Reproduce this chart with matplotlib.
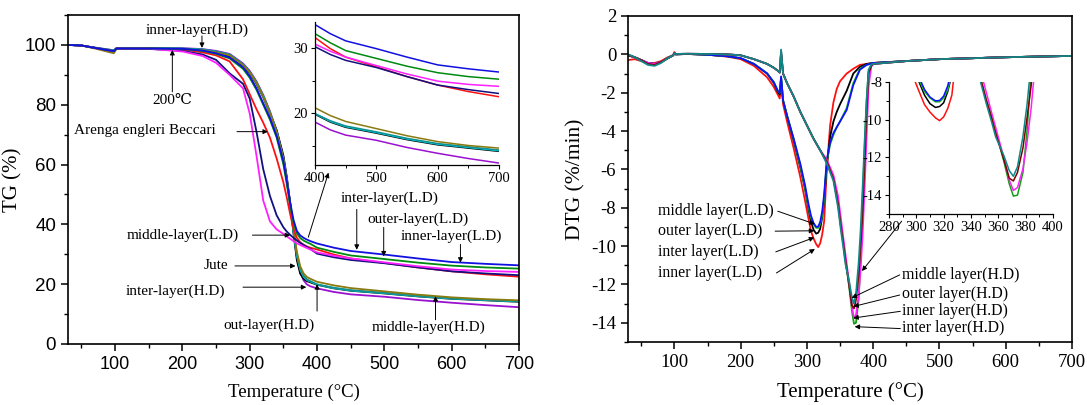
import matplotlib
matplotlib.use('Agg')
import matplotlib.pyplot as plt
from matplotlib.ticker import MultipleLocator

SERIF = ['Liberation Serif', 'DejaVu Serif']
SANS = ['Liberation Sans', 'DejaVu Sans']
plt.rcParams['font.family'] = SERIF
plt.rcParams['mathtext.fontset'] = 'stix'

# ---------------- TG data (left panel) ----------------
T_TG = [30, 50, 70, 98, 102, 150, 200, 230, 250, 270, 290, 300, 310, 320, 330, 340, 350,
        355, 360, 365, 370, 375, 380, 385, 390, 400, 425, 450, 500, 550, 600, 650, 700]

TG_ld_magenta = [100, 99.8, 99.0, 97.9, 98.8, 98.7, 97.8, 96.3, 94.0, 90.0, 85.5, 77.0, 63.0, 48.0, 41.0, 38.3, 36.8,
                 36.0, 35.2, 34.4, 33.7, 33.1, 32.6, 32.1, 31.6, 30.6, 29.5, 28.6, 27.3, 26.0, 24.9, 24.4, 24.1]
TG_ld_navy = [100, 99.8, 99.0, 97.9, 98.8, 98.7, 98.0, 96.8, 95.0, 90.5, 87.0, 82.0, 71.0, 58.5, 49.5, 43.0, 39.0,
              37.6, 36.5, 35.5, 34.6, 33.8, 33.1, 32.4, 31.8, 30.2, 29.0, 28.1, 27.0, 25.6, 24.3, 23.6, 23.0]
TG_ld_red = [100, 99.8, 99.0, 97.9, 98.8, 98.8, 98.5, 97.5, 96.5, 94.5, 88.5, 83.5, 78.5, 74.0, 69.0, 62.0, 54.0,
             49.0, 43.5, 38.5, 35.5, 34.0, 33.2, 32.6, 32.2, 31.6, 29.9, 28.6, 27.1, 25.6, 24.3, 23.3, 22.5]
TG_ld_green = [100, 99.8, 99.0, 97.9, 98.8, 98.8, 98.7, 98.0, 97.0, 95.5, 92.0, 89.0, 85.0, 80.0, 75.0, 69.0, 60.0,
               53.5, 46.5, 40.5, 37.0, 35.4, 34.6, 34.0, 33.5, 32.2, 30.8, 29.6, 28.4, 27.2, 26.2, 25.6, 25.2]
TG_ld_blue = [100, 99.8, 99.0, 97.9, 98.8, 98.8, 98.7, 98.1, 97.2, 95.8, 92.5, 89.5, 85.5, 80.5, 75.5, 69.5, 61.0,
              54.5, 47.5, 41.5, 37.8, 36.3, 35.5, 34.9, 34.4, 33.6, 32.2, 31.1, 29.9, 28.6, 27.4, 26.8, 26.3]

TG_hd_olive = [100, 99.8, 98.8, 97.2, 98.6, 98.6, 98.5, 98.2, 97.5, 96.5, 93.2, 90.8, 87.2, 82.7, 77.2, 70.8, 61.8,
               55.0, 47.2, 38.6, 30.8, 26.0, 23.6, 22.4, 21.8, 20.8, 19.6, 18.7, 17.6, 16.5, 15.6, 15.0, 14.6]
TG_hd_cyan = [100, 99.8, 99.0, 98.0, 98.8, 98.8, 98.7, 98.4, 97.7, 96.7, 93.4, 90.8, 87.3, 82.8, 77.3, 70.8, 61.5,
              54.5, 46.5, 37.5, 29.5, 24.8, 22.5, 21.4, 20.9, 19.9, 18.7, 17.9, 17.0, 16.0, 15.2, 14.7, 14.2]
TG_hd_black = [100, 99.8, 99.0, 98.0, 98.8, 98.8, 98.6, 98.2, 97.4, 96.2, 93.0, 90.5, 87.0, 82.5, 77.0, 71.5, 63.0,
               56.0, 47.0, 37.0, 28.0, 23.5, 21.8, 21.0, 20.6, 19.8, 18.6, 17.8, 16.9, 15.9, 15.1, 14.6, 14.1]
TG_hd_teal = [100, 99.8, 99.1, 98.2, 98.9, 98.9, 98.8, 98.5, 97.8, 96.8, 93.5, 91.0, 87.5, 83.0, 77.5, 71.0, 62.0,
              55.0, 47.0, 38.0, 30.0, 25.2, 22.8, 21.6, 21.0, 19.9, 18.8, 18.0, 17.1, 16.1, 15.3, 14.8, 14.3]
TG_hd_purple = [100, 99.8, 99.1, 98.2, 98.9, 98.9, 98.9, 98.6, 98.0, 97.0, 93.8, 91.3, 87.8, 83.3, 77.8, 71.3, 62.3,
                55.3, 47.3, 37.5, 29.0, 24.0, 21.3, 19.9, 19.3, 18.6, 17.4, 16.6, 15.8, 14.7, 13.8, 13.0, 12.3]

# ---------------- DTG data (right panel) ----------------
T_LD = [30, 40, 50, 60, 70, 80, 90, 98, 100, 102, 120, 150, 180, 200, 220, 240, 250, 256, 259, 261,
        264, 270, 280, 290, 297, 302, 306, 310, 314, 317, 320, 323, 326, 330, 335, 340, 345, 350, 360, 370,
        380, 390, 400, 450, 500, 600, 700]
DTG_ld_red = [-0.30, -0.25, -0.35, -0.45, -0.45, -0.35, -0.15, -0.05, 0.12, 0.0,
              0.02, -0.02, -0.12, -0.25, -0.6, -1.2, -1.7, -2.1, -2.3, -1.4,
              -2.6, -3.5, -4.9, -6.4, -7.6, -8.5, -9.2, -9.6, -9.9, -10.05,
              -9.85, -9.4, -8.7, -6.0, -3.7, -2.5, -1.8, -1.4, -1.0, -0.75,
              -0.55, -0.5, -0.45, -0.35, -0.25, -0.15, -0.08]
DTG_ld_black = [-0.05, -0.15, -0.3, -0.45, -0.5, -0.4, -0.2, -0.05, 0.05, 0.0,
                0.02, -0.02, -0.1, -0.2, -0.5, -1.0, -1.5, -1.95, -2.1, -1.2,
                -2.4, -3.2, -4.5, -5.9, -7.0, -8.0, -8.7, -9.15, -9.35, -9.3,
                -9.1, -8.5, -7.6, -5.8, -4.3, -3.5, -3.0, -2.6, -1.9, -1.0,
                -0.65, -0.5, -0.45, -0.35, -0.25, -0.15, -0.08]
DTG_ld_green = [0.0, -0.15, -0.3, -0.45, -0.5, -0.4, -0.2, -0.05, 0.05, 0.0,
                0.02, -0.02, -0.1, -0.2, -0.5, -1.0, -1.45, -1.9, -2.0, -1.2,
                -2.4, -3.2, -4.4, -5.8, -6.9, -7.9, -8.5, -8.85, -9.05, -9.05,
                -8.85, -8.4, -7.5, -5.6, -4.7, -4.2, -3.8, -3.5, -2.8, -1.5,
                -0.75, -0.55, -0.45, -0.35, -0.25, -0.15, -0.08]
DTG_ld_blue = [-0.02, -0.15, -0.3, -0.45, -0.5, -0.4, -0.2, -0.05, 0.05, 0.0,
               0.02, -0.02, -0.1, -0.2, -0.5, -1.0, -1.45, -1.9, -2.0, -1.15,
               -2.4, -3.2, -4.4, -5.7, -6.8, -7.75, -8.4, -8.8, -9.0, -8.98,
               -8.75, -8.2, -7.3, -5.5, -4.6, -4.1, -3.8, -3.5, -2.9, -1.6,
               -0.8, -0.55, -0.45, -0.35, -0.25, -0.15, -0.08]

T_HD = [30, 40, 50, 60, 70, 80, 90, 98, 100, 102, 120, 150, 180, 200, 220, 240, 250, 256, 259, 261,
        264, 270, 280, 290, 300, 310, 320, 330, 340, 347, 351, 355, 358, 361, 364, 368, 371, 374, 378, 381,
        384, 387, 390, 393, 397, 400, 450, 500, 600, 700]
DTG_hd_teal = [0.0, -0.15, -0.35, -0.55, -0.6, -0.45, -0.2, -0.05, 0.05, 0.02,
               0.03, 0.02, 0.0, -0.05, -0.25, -0.5, -0.7, -0.85, -0.95, 0.25,
               -1.0, -1.5, -2.2, -3.0, -3.7, -4.4, -5.0, -5.7, -6.6, -8.0,
               -9.1, -10.1, -10.9, -11.4, -11.9, -12.7, -13.0, -12.5, -10.9, -9.2,
               -7.0, -4.6, -2.4, -0.8, -0.55, -0.5, -0.35, -0.25, -0.15, -0.08]
DTG_hd_maroon = [-0.05, -0.15, -0.3, -0.5, -0.55, -0.4, -0.2, -0.05, 0.05, 0.02,
                 0.03, 0.02, 0.0, -0.05, -0.25, -0.5, -0.7, -0.85, -0.95, 0.15,
                 -1.0, -1.5, -2.2, -3.0, -3.7, -4.4, -5.0, -5.6, -6.5, -7.8,
                 -8.9, -9.9, -10.7, -11.4, -12.1, -13.1, -13.25, -12.8, -11.5, -9.9,
                 -8.2, -5.6, -3.0, -1.0, -0.6, -0.5, -0.35, -0.25, -0.15, -0.08]
DTG_hd_magenta = [-0.05, -0.15, -0.3, -0.45, -0.5, -0.4, -0.2, -0.05, 0.05, 0.02,
                  0.03, 0.02, 0.0, -0.05, -0.25, -0.5, -0.7, -0.85, -0.95, 0.1,
                  -1.0, -1.5, -2.2, -3.0, -3.7, -4.4, -5.0, -5.5, -6.3, -7.4,
                  -8.5, -9.6, -10.4, -11.2, -12.0, -13.2, -13.75, -13.6, -12.6, -11.2,
                  -9.4, -7.0, -4.3, -1.7, -0.65, -0.5, -0.35, -0.25, -0.15, -0.08]
DTG_hd_green = [-0.05, -0.15, -0.3, -0.5, -0.55, -0.4, -0.2, -0.05, 0.05, 0.02,
                0.03, 0.02, 0.0, -0.05, -0.25, -0.5, -0.7, -0.85, -0.95, 0.1,
                -1.0, -1.5, -2.2, -3.0, -3.7, -4.4, -5.0, -5.6, -6.4, -7.8,
                -8.9, -9.8, -10.7, -11.4, -12.2, -13.4, -14.05, -14.0, -12.8, -10.6,
                -7.5, -5.0, -2.5, -0.9, -0.55, -0.5, -0.35, -0.25, -0.15, -0.08]

# ---------------- ticks ----------------
TG_xticks = [100, 200, 300, 400, 500, 600, 700]
TG_yticks = [0, 20, 40, 60, 80, 100]
TGin_xticks = [400, 500, 600, 700]
TGin_yticks = [20, 30]
DTG_xticks = [100, 200, 300, 400, 500, 600, 700]
DTG_yticks = [-14, -12, -10, -8, -6, -4, -2, 0, 2]
DTGin_xticks = [280, 300, 320, 340, 360, 380, 400]
DTGin_yticks = [-14, -12, -10, -8]

LW = 1.3
W, H = 1087, 405


def rect(x0, y0, x1, y1):
    return [x0 / W, 1 - y1 / H, (x1 - x0) / W, (y1 - y0) / H]


fig = plt.figure(figsize=(W / 100, H / 100), dpi=100)
axL = fig.add_axes(rect(68, 15, 519, 344))
axR = fig.add_axes(rect(628, 16, 1072, 342))
insL = fig.add_axes(rect(315, 22, 499, 165))
insR = fig.add_axes(rect(889, 82, 1053, 214))

tg_series = [
    (TG_hd_purple, '#9a10d0'), (TG_hd_black, '#000000'), (TG_hd_cyan, '#00d0e0'),
    (TG_hd_teal, '#109090'), (TG_hd_olive, '#8a7a10'),
    (TG_ld_red, '#ff1010'), (TG_ld_navy, '#101080'), (TG_ld_magenta, '#ff20ff'),
    (TG_ld_green, '#008a10'), (TG_ld_blue, '#1010e0'),
]
for ax in (axL, insL):
    for ys, c in tg_series:
        ax.plot(T_TG, ys, color=c, lw=LW if ax is axL else 1.1)

dtg_series = [
    (T_LD, DTG_ld_red, '#ff1010'), (T_LD, DTG_ld_black, '#000000'),
    (T_LD, DTG_ld_green, '#10c010'), (T_LD, DTG_ld_blue, '#1010ff'),
    (T_HD, DTG_hd_green, '#10a010'), (T_HD, DTG_hd_magenta, '#ff20ff'),
    (T_HD, DTG_hd_maroon, '#800000'), (T_HD, DTG_hd_teal, '#108888'),
]
for ax in (axR, insR):
    for xs, ys, c in dtg_series:
        ax.plot(xs, ys, color=c, lw=LW if ax is axR else 1.1)

# ---- main axes styling ----
for ax in (axL, axR):
    ax.set_xlim(30, 700)
    for s in ax.spines.values():
        s.set_linewidth(1.2)
    ax.xaxis.set_minor_locator(MultipleLocator(50))
    ax.tick_params(which='major', direction='out', length=5, width=1.1, top=False, right=False)
    ax.tick_params(which='minor', direction='out', length=3, width=1.0, top=False, right=False)

axL.set_ylim(0, 110)
axL.set_xticks(TG_xticks)
axL.set_xticklabels([str(t) for t in TG_xticks], fontfamily=SANS, fontsize=13)
axL.set_yticks(TG_yticks)
axL.set_yticklabels([str(t) for t in TG_yticks], fontfamily=SANS, fontsize=13.5)
axL.yaxis.set_minor_locator(MultipleLocator(10))
axL.set_xlabel('Temperature (°C)', fontsize=13.5, labelpad=8)
axL.set_ylabel('TG (%)', fontsize=15, labelpad=2)

axR.set_ylim(-15, 2)
axR.set_xticks(DTG_xticks)
axR.set_xticklabels([str(t) for t in DTG_xticks], fontsize=13.5)
axR.set_yticks(DTG_yticks)
axR.set_yticklabels([str(t) for t in DTG_yticks], fontsize=13.5)
axR.yaxis.set_minor_locator(MultipleLocator(1))
axR.set_xlabel('Temperature (°C)', fontsize=15, labelpad=8)
axR.set_ylabel('DTG (%/min)', fontsize=15.5, labelpad=4)

# ---- insets ----
for ax in (insL, insR):
    ax.patch.set_alpha(0)
    ax.spines['top'].set_visible(False)
    ax.spines['right'].set_visible(False)
    for s in ('left', 'bottom'):
        ax.spines[s].set_linewidth(0.9)
    ax.tick_params(which='major', direction='out', length=3, width=0.8, pad=2)
    ax.tick_params(which='minor', direction='out', length=2, width=0.7)

insL.set_xlim(400, 700)
insL.set_ylim(12, 34)
insL.set_xticks(TGin_xticks)
insL.set_xticklabels([str(t) for t in TGin_xticks], fontsize=10.5)
insL.set_yticks(TGin_yticks)
insL.set_yticklabels([str(t) for t in TGin_yticks], fontsize=10.5)
insL.xaxis.set_minor_locator(MultipleLocator(50))
insL.yaxis.set_minor_locator(MultipleLocator(5))

insR.set_xlim(280, 400)
insR.set_ylim(-15, -8)
insR.set_xticks(DTGin_xticks)
insR.set_xticklabels([str(t) for t in DTGin_xticks], fontsize=10.5)
insR.set_yticks(DTGin_yticks)
insR.set_yticklabels([str(t) for t in DTGin_yticks], fontsize=10.5)
insR.xaxis.set_minor_locator(MultipleLocator(10))
insR.yaxis.set_minor_locator(MultipleLocator(1))

# ---- annotations ----
AFS = 11
AFR = 11.4
AP = dict(arrowstyle='-|>', color='black', lw=0.7, mutation_scale=7, shrinkA=0, shrinkB=0)


def arrow(ax, start, tip):
    ax.annotate('', xy=tip, xytext=start, arrowprops=AP)


# left panel
axL.text(222, 105, 'inner-layer(H.D)', fontsize=AFS, ha='center', va='center')
arrow(axL, (229, 103), (229, 99))
axL.text(185, 81.5, '200℃', fontsize=AFS, ha='center', va='center', family=SERIF)
arrow(axL, (185, 84.3), (185, 98.3))
axL.text(39, 71.3, 'Arenga engleri Beccari', fontsize=AFS, ha='left', va='center')
arrow(axL, (281, 71), (327, 71))
axL.text(200, 36.4, 'middle-layer(L.D)', fontsize=AFS, ha='center', va='center')
arrow(axL, (304, 36.4), (360, 36.4))
axL.text(250, 26.1, 'Jute', fontsize=AFS, ha='center', va='center')
arrow(axL, (278, 26.1), (368, 26.1))
axL.text(190, 17.6, 'inter-layer(H.D)', fontsize=AFS, ha='center', va='center')
arrow(axL, (290, 19), (384, 19))
axL.text(329, 6.4, 'out-layer(H.D)', fontsize=AFS, ha='center', va='center')
arrow(axL, (400, 11), (400, 20))
axL.text(566, 5.6, 'middle-layer(H.D)', fontsize=AFS, ha='center', va='center')
arrow(axL, (576, 8.1), (576, 16.0))
axL.text(508, 48.7, 'inter-layer(L.D)', fontsize=AFS, ha='center', va='center')
arrow(axL, (459, 45), (459, 31.5))
axL.text(550, 41.7, 'outer-layer(L.D)', fontsize=AFS, ha='center', va='center')
arrow(axL, (499, 39), (499, 29.3))
axL.text(600, 36.1, 'inner-layer(L.D)', fontsize=AFS, ha='center', va='center')
arrow(axL, (613, 33.3), (613, 27.2))
arrow(axL, (387, 35.7), (417, 57.3))

# right panel
for y, lab in [(-8.18, 'middle layer(L.D)'), (-9.22, 'outer layer(L.D)'),
               (-10.31, 'inter layer(L.D)'), (-11.41, 'inner layer(L.D)')]:
    axR.text(76, y, lab, fontsize=AFR, ha='left', va='center')
arrow(axR, (256, -8.18), (312, -8.85))
arrow(axR, (252, -9.22), (311, -9.2))
arrow(axR, (253, -10.3), (311, -9.55))
arrow(axR, (254, -11.4), (312, -10.15))

for y, lab in [(-11.51, 'middle layer(H.D)'), (-12.5, 'outer layer(H.D)'),
               (-13.39, 'inner layer(H.D)'), (-14.27, 'inter layer(H.D)')]:
    axR.text(443, y, lab, fontsize=AFR, ha='left', va='center')
arrow(axR, (440, -11.5), (367.5, -12.7))
arrow(axR, (440, -12.55), (370, -13.15))
arrow(axR, (441, -13.4), (370, -13.75))
arrow(axR, (441, -14.3), (372, -14.2))
arrow(axR, (443, -8.7), (383, -11.3))

fig.savefig('out.png', dpi=100)
